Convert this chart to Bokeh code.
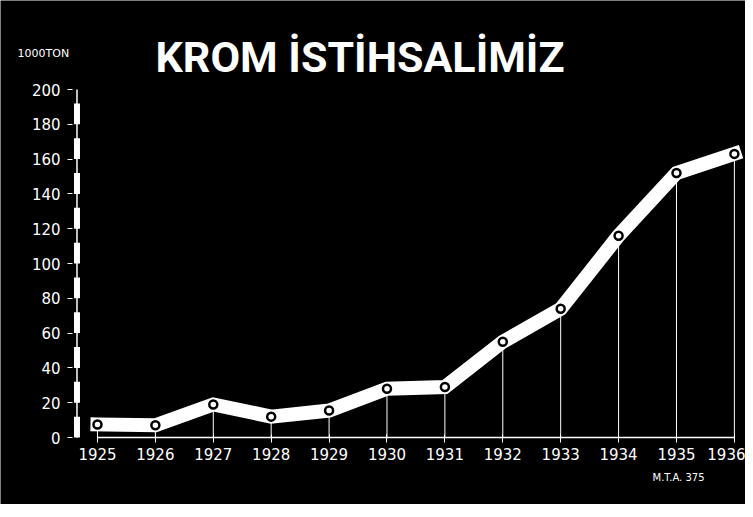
from bokeh.plotting import figure
from bokeh.models import Range1d
from bokeh.embed import file_html
from bokeh.resources import INLINE
from bokeh.core.properties import value

# ---- data ----
years = [1925, 1926, 1927, 1928, 1929, 1930, 1931, 1932, 1933, 1934, 1935, 1936]
production = [7.5, 7, 19, 12, 15.5, 28, 29, 55, 74, 116, 152, 163]
y_ticks = [0, 20, 40, 60, 80, 100, 120, 140, 160, 180, 200]
title_text = "KROM İSTİHSALİMİZ"
unit_text = "1000TON"
note_text = "M.T.A. 375"

# ---- style ----
WHITE = "white"
BLACK = "black"
TICK_FONT = "DejaVu Sans"
TITLE_FONT = "Roboto"
yaxis_loc = 1924.569   # where the left axis is fixed (style)
xaxis_loc = -1.15      # where the bottom axis is fixed (style)
axis_x = 1924.646      # vertical axis bar (style)
bar_step = 12          # thick part of axis bar per interval

p = figure(width=745, height=504, output_backend="svg", toolbar_location=None,
           x_range=Range1d(1923.325, 1936.192), y_range=Range1d(-38.5, 251.15),
           min_border_left=0, min_border_right=0, min_border_top=0,
           min_border_bottom=0,
           background_fill_color=BLACK, border_fill_color=BLACK,
           outline_line_color=None)
p.grid.visible = False

# x axis
p.xaxis.fixed_location = xaxis_loc
p.xaxis.ticker = years
p.xaxis.axis_line_color = None
p.xaxis.major_tick_line_color = WHITE
p.xaxis.major_tick_in = 5
p.xaxis.major_tick_out = 3
p.xaxis.minor_tick_line_color = None
p.xaxis.major_label_text_color = WHITE
p.xaxis.major_label_text_font = TICK_FONT
p.xaxis.major_label_text_font_size = "15px"
p.xaxis.major_label_standoff = 5

# y axis
p.yaxis.fixed_location = yaxis_loc
p.yaxis.ticker = y_ticks
p.yaxis.axis_line_color = None
p.yaxis.major_tick_line_color = WHITE
p.yaxis.major_tick_in = 0
p.yaxis.major_tick_out = 5
p.yaxis.minor_tick_line_color = None
p.yaxis.major_label_text_color = WHITE
p.yaxis.major_label_text_font = TICK_FONT
p.yaxis.major_label_text_font_size = "15px"
p.yaxis.major_label_standoff = 7

# vertical axis bar (thin line + thick blocks per interval)
p.segment(x0=axis_x, y0=y_ticks[0], x1=axis_x, y1=y_ticks[-1],
          line_color=WHITE, line_width=1.5)
lows = y_ticks[:-1]
p.segment(x0=[axis_x] * len(lows), y0=lows, x1=[axis_x] * len(lows),
          y1=[v + bar_step for v in lows], line_color=WHITE, line_width=6)

# horizontal baseline
p.segment(x0=years[0], y0=0, x1=years[-1], y1=0, line_color=WHITE, line_width=1.5)

# drop lines
p.segment(x0=years, y0=[0] * len(years), x1=years, y1=production,
          line_color=WHITE, line_width=1)

# thick band
p.line(years, production, line_color=WHITE, line_width=14,
       line_join="miter", line_cap="square")

# point markers
p.scatter(years, production, size=8, fill_color=WHITE, line_color=BLACK,
          line_width=2.5)

# texts
p.text(x=[1926.002], y=[218.7], text=[title_text], text_font=value(TITLE_FONT),
       text_font_size="43px", text_font_style="bold", text_color=WHITE,
       text_baseline="alphabetic", text_align="left")
p.text(x=[1923.619], y=[220.7], text=[unit_text], text_font=value(TICK_FONT),
       text_font_size="11px", text_color=WHITE,
       text_baseline="middle", text_align="left")
p.text(x=[1934.586], y=[-23], text=[note_text], text_font=value(TICK_FONT),
       text_font_size="10px", text_color=WHITE,
       text_baseline="middle", text_align="left")

open("out.html", "w").write(file_html(p, INLINE))
